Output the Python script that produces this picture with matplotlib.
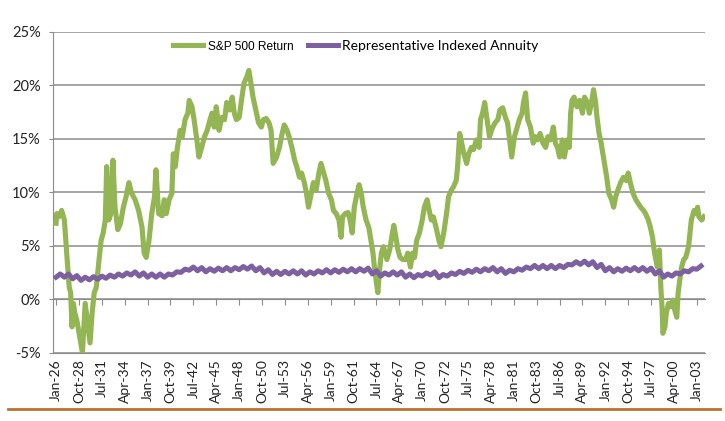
"""
S&P 500 return vs. a representative indexed annuity, Jan-26 to Jan-03.
"""

import numpy as np
import matplotlib
matplotlib.use("Agg")
import matplotlib.pyplot as plt
from matplotlib.lines import Line2D

# Data (month index since Jan-1926, value in %)
sp_month = [0, 1, 4, 8, 12, 14, 16, 19, 21, 23, 25, 27, 30, 34, 38, 42, 45, 49, 52, 55,
            58, 62, 65, 68, 71, 73, 76, 79, 82, 85, 89, 93, 97, 101, 105, 109, 114, 119, 124, 127,
            130, 134, 138, 142, 144, 148, 153, 156, 159, 163, 167, 169, 172, 175, 179, 182, 186, 190, 192, 196,
            199, 203, 206, 210, 214, 218, 222, 225, 228, 231, 235, 239, 243, 246, 250, 254, 257, 260, 264, 268,
            271, 275, 278, 281, 284, 288, 292, 296, 299, 303, 307, 310, 313, 318, 322, 326, 329, 333, 336, 340,
            344, 347, 351, 354, 358, 361, 364, 368, 371, 375, 379, 382, 386, 389, 393, 397, 400, 404, 408, 411,
            413, 417, 421, 424, 427, 430, 434, 437, 440, 443, 447, 451, 454, 457, 459, 462, 464, 466, 469, 472,
            477, 481, 485, 487, 489, 493, 496, 500, 504, 507, 511, 514, 517, 520, 524, 528, 531, 535, 538, 541,
            544, 548, 552, 555, 559, 563, 566, 570, 573, 577, 579, 582, 584, 588, 592, 595, 599, 602, 606, 610,
            612, 615, 618, 621, 625, 629, 633, 637, 640, 644, 648, 651, 654, 657, 661, 665, 668, 672, 674, 677,
            680, 684, 688, 691, 694, 698, 702, 706, 709, 713, 717, 720, 723, 726, 730, 733, 737, 740, 742, 744,
            747, 751, 755, 759, 762, 766, 769, 772, 775, 778, 780, 783, 786, 790, 794, 797, 801, 804, 807, 810,
            814, 818, 822, 825, 828, 832, 836, 839, 843, 847, 850, 854, 857, 860, 863, 867, 870, 872, 874, 875,
            878, 880, 883, 886, 889, 892, 895, 897, 900, 902, 905, 908, 912, 914, 916, 920, 923, 925, 927, 931,
            934]
sp_return = [7.1, 8.0, 7.7, 8.3, 7.4, 5.5, 3.7, 1.1, 0.6, -2.6, -0.4, -1.3, -2.0, -3.5, -5.0, -0.4, -2.0, -4.1, -1.3, 0.6,
             1.1, 3.7, 5.5, 6.2, 7.4, 12.4, 7.4, 8.0, 13.0, 8.6, 6.5, 7.1, 8.6, 9.6, 10.9, 9.9, 9.3, 8.3, 6.7, 4.3,
             3.9, 5.5, 8.0, 9.6, 12.1, 8.0, 7.8, 9.3, 8.0, 9.3, 9.9, 13.6, 12.4, 14.2, 15.8, 15.2, 16.8, 17.4, 18.6, 18.0,
             16.8, 14.9, 13.3, 14.2, 15.2, 15.8, 16.8, 17.4, 16.1, 18.0, 15.8, 17.0, 16.8, 18.4, 17.7, 18.9, 17.4, 16.8, 17.0, 18.9,
             20.2, 20.8, 21.4, 20.2, 18.9, 17.7, 16.5, 16.1, 16.8, 16.9, 16.5, 15.8, 12.7, 13.3, 14.2, 15.5, 16.3, 15.8, 15.2, 14.2,
             13.0, 12.4, 11.4, 11.8, 10.9, 9.9, 8.6, 9.9, 10.9, 10.2, 11.8, 12.7, 11.8, 11.1, 9.9, 9.3, 8.3, 8.0, 7.4, 5.8,
             7.7, 8.0, 8.1, 7.4, 6.2, 8.6, 9.9, 10.7, 9.9, 8.6, 7.4, 6.7, 5.5, 4.3, 3.0, 1.5, 0.6, 2.4, 4.3, 4.9,
             3.7, 4.6, 6.2, 6.9, 6.2, 4.6, 3.9, 3.7, 3.7, 4.3, 3.0, 4.3, 3.9, 5.5, 6.2, 7.4, 8.6, 9.3, 8.3, 7.4,
             7.7, 6.7, 5.5, 4.9, 6.2, 8.0, 9.6, 10.2, 10.5, 11.1, 12.4, 15.5, 14.9, 13.6, 12.7, 13.6, 14.2, 14.0, 14.9, 14.2,
             16.8, 17.4, 18.4, 17.0, 15.2, 16.0, 16.5, 16.8, 17.7, 17.9, 17.0, 16.5, 14.9, 13.3, 15.2, 16.1, 16.8, 17.4, 18.4, 19.3,
             16.8, 16.1, 14.6, 15.2, 14.9, 15.5, 14.6, 14.2, 15.2, 14.9, 16.1, 14.6, 14.2, 13.3, 14.9, 13.3, 14.9, 14.2, 17.4, 18.6,
             18.9, 18.0, 18.6, 17.4, 18.9, 18.4, 17.4, 18.4, 19.6, 18.4, 17.0, 15.5, 14.6, 13.0, 11.4, 9.9, 9.3, 8.6, 9.6, 10.2,
             10.9, 11.4, 11.1, 11.8, 10.9, 9.9, 9.3, 9.0, 8.6, 8.3, 8.0, 7.4, 6.7, 5.8, 4.3, 3.0, 4.6, 1.1, -1.0, -3.2,
             -2.6, -1.3, -0.4, -0.7, -0.1, -1.0, -1.7, 0.6, 2.1, 3.0, 3.7, 3.9, 4.9, 6.2, 7.4, 8.3, 8.0, 8.6, 7.7, 7.4,
             7.7]

# annuity read every six months (Jan, Jul of each year)
annuity_month = np.arange(0, 936, 6)
annuity_return = [2.05, 2.35, 2.05, 2.35, 1.9, 2.2, 1.75, 2.05, 1.8, 2.1, 1.85, 2.15, 1.95, 2.25, 2.05, 2.35,
                  2.15, 2.45, 2.25, 2.55, 2.15, 2.45, 2.05, 2.35, 2.05, 2.35, 2.05, 2.35, 2.25, 2.55, 2.5, 2.8,
                  2.7, 3.0, 2.65, 2.95, 2.55, 2.85, 2.6, 2.9, 2.65, 2.95, 2.65, 2.95, 2.75, 3.05, 2.8, 3.1,
                  2.65, 2.95, 2.45, 2.75, 2.3, 2.6, 2.3, 2.6, 2.35, 2.65, 2.35, 2.65, 2.25, 2.55, 2.35, 2.65,
                  2.45, 2.75, 2.45, 2.75, 2.5, 2.8, 2.55, 2.85, 2.55, 2.85, 2.6, 2.9, 2.35, 2.65, 2.15, 2.45,
                  2.25, 2.55, 2.25, 2.55, 2.05, 2.35, 2.0, 2.3, 2.15, 2.45, 2.25, 2.55, 2.0, 2.3, 2.15, 2.45,
                  2.3, 2.6, 2.4, 2.7, 2.5, 2.8, 2.55, 2.85, 2.65, 2.95, 2.55, 2.85, 2.4, 2.7, 2.55, 2.85,
                  2.7, 3.0, 2.85, 3.15, 2.85, 3.15, 2.85, 3.15, 2.85, 3.15, 2.95, 3.25, 3.2, 3.5, 3.25, 3.55,
                  3.2, 3.5, 2.95, 3.25, 2.65, 2.95, 2.55, 2.85, 2.6, 2.9, 2.65, 2.95, 2.65, 2.95, 2.6, 2.9,
                  2.35, 2.65, 2.05, 2.35, 2.15, 2.45, 2.35, 2.65, 2.55, 2.85, 2.8, 3.1]

tick_month = list(range(0, 925, 33))
tick_labels = ["Jan-26", "Oct-28", "Jul-31", "Apr-34", "Jan-37", "Oct-39", "Jul-42", "Apr-45",
               "Jan-48", "Oct-50", "Jul-53", "Apr-56", "Jan-59", "Oct-61", "Jul-64", "Apr-67",
               "Jan-70", "Oct-72", "Jul-75", "Apr-78", "Jan-81", "Oct-83", "Jul-86", "Apr-89",
               "Jan-92", "Oct-94", "Jul-97", "Apr-00", "Jan-03"]

green = "#93B553"
purple = "#7D60A0"
gridc = "#8C8C8C"

fig = plt.figure(figsize=(7.25, 4.21), dpi=100)
ax = fig.add_axes([0.0735, 0.1627, 0.8989, 0.7613])

# Excel draws the second series on top
ax.plot(sp_month, sp_return, color=green, lw=3.7, solid_joinstyle="round",
        label="S&P 500 Return", zorder=3)
ax.plot(annuity_month, annuity_return, color=purple, lw=3.6, solid_joinstyle="round",
        label="Representative Indexed Annuity", zorder=4)

ax.set_xlim(-4, 935.7)
ax.set_ylim(-5, 25)
ax.set_yticks([-5, 0, 5, 10, 15, 20, 25])
ax.set_yticklabels(["-5%", "0%", "5%", "10%", "15%", "20%", "25%"])
ax.yaxis.grid(True, color=gridc, lw=1.1)
ax.set_axisbelow(True)

for s in ["top", "right"]:
    ax.spines[s].set_visible(False)
ax.spines["left"].set_color(gridc)
ax.spines["bottom"].set_position(("data", 0))
ax.spines["bottom"].set_color(gridc)

ax.set_xticks(tick_month)
ax.tick_params(axis="x", direction="out", length=4, color=gridc, labelbottom=False)
ax.tick_params(axis="y", direction="out", length=3, color=gridc, pad=6,
               labelsize=10.5, labelcolor="#222222")
for t in ax.get_yticklabels():
    t.set_fontfamily("Lato")

# labels sit under the -5% line
sec = ax.secondary_xaxis(0.0)
sec.set_xticks(tick_month)
sec.set_xticklabels(tick_labels, rotation=90, fontsize=10, family="Lato", color="#222222")
sec.tick_params(length=0, pad=5)
sec.spines["bottom"].set_color(gridc)

handles = [Line2D([], [], color=green, lw=3.7), Line2D([], [], color=purple, lw=3.6)]
leg = ax.legend(handles, ["S&P 500 Return", "Representative Indexed Annuity"],
                loc="center", bbox_to_anchor=(0.4645, 0.956), ncol=2, frameon=False,
                handlelength=2.16, handletextpad=0.35, columnspacing=1.0, fontsize=10)
leg.get_texts()[0].set_fontfamily("Liberation Sans")
leg.get_texts()[0].set_fontsize(8.6)
leg.get_texts()[1].set_fontfamily("Lato")

# orange rule under the chart
fig.add_artist(Line2D([0.011, 0.993], [1 - 409 / 421, 1 - 409 / 421],
                      transform=fig.transFigure, color="#C0702C", lw=2))

fig.savefig("out.png", dpi=100, facecolor="white")
